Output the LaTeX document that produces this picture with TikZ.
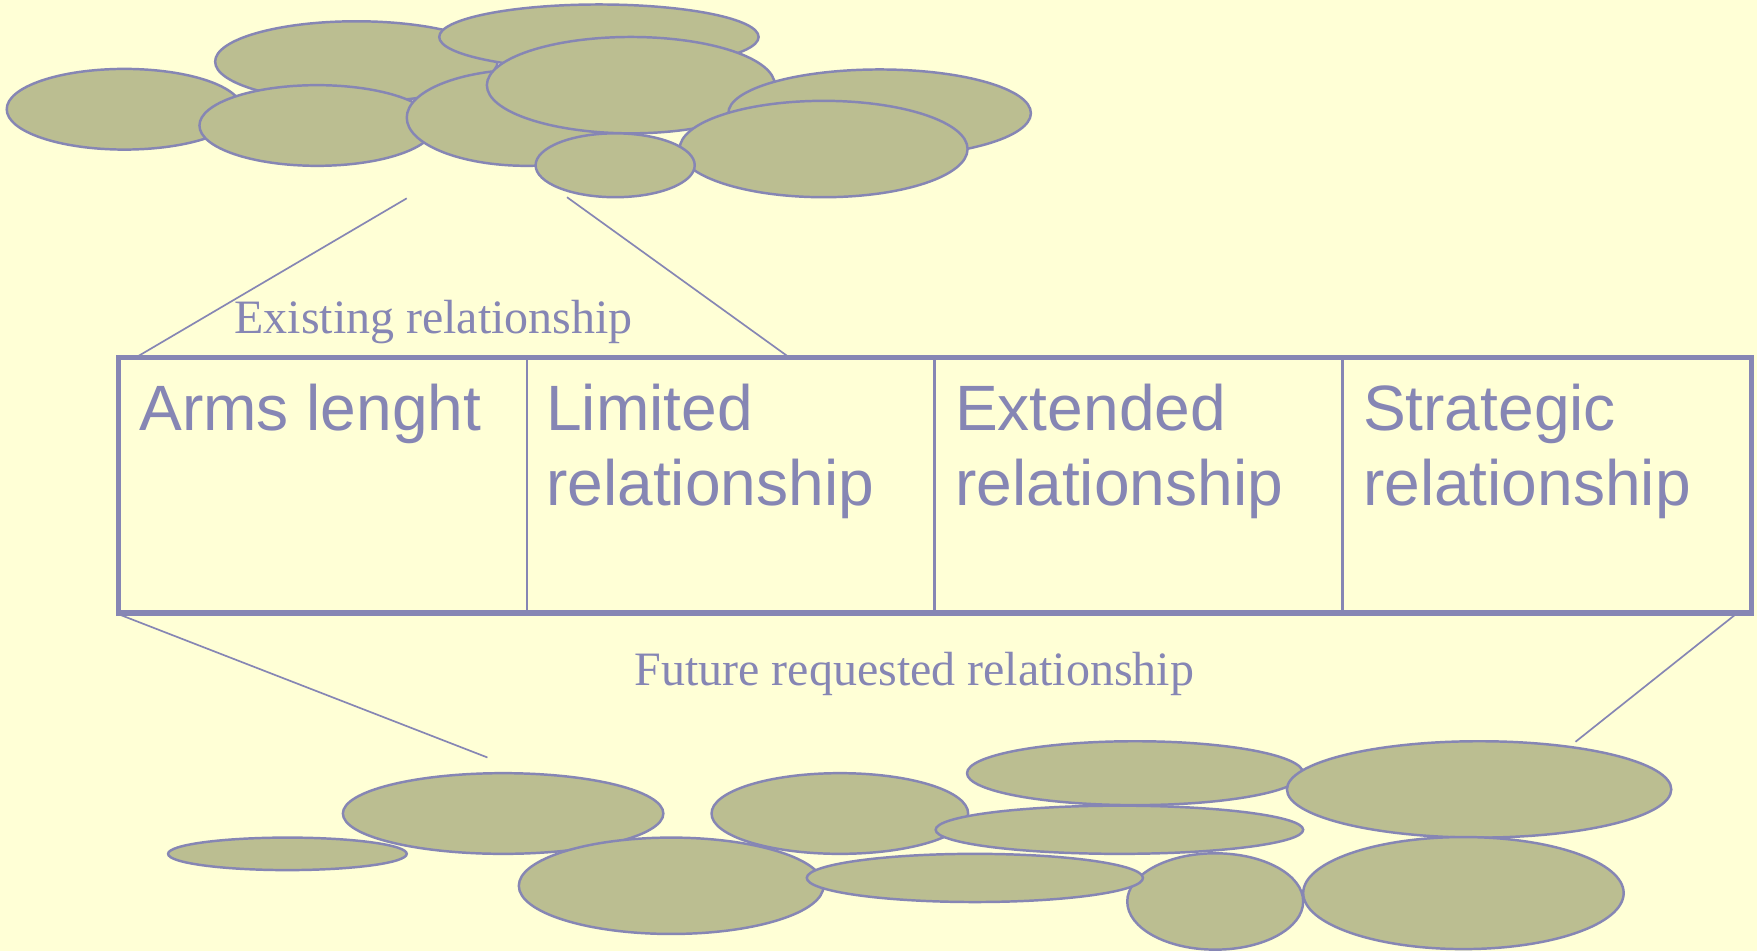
\documentclass[tikz,border=0pt]{standalone}
\usepackage{fontspec}
\setmainfont{Liberation Serif}
\newfontfamily\arialf{Liberation Sans}
\usetikzlibrary{shapes.geometric}
\definecolor{bgyellow}{RGB}{255,255,214}
\definecolor{cloudfill}{RGB}{187,190,145}
\definecolor{lav}{RGB}{134,134,180}
\begin{document}
\begin{tikzpicture}[x=0.5pt,y=-0.5pt,
  blob/.style={fill=cloudfill,draw=lav,line width=1.1pt},
  conn/.style={draw=lav,line width=0.75pt},
  celltext/.style={anchor=base west,inner sep=0pt,align=left,text=lav,
     font=\arialf\fontsize{28.6}{33.5}\selectfont},
  label/.style={anchor=base,inner sep=0pt,text=lav,font=\fontsize{21.4}{25}\selectfont}]
\fill[bgyellow] (0,0) rectangle (1568,849);
\useasboundingbox (0,0) rectangle (1568,849);
% top cloud
\path[blob] (111,97.5) ellipse [x radius=105, y radius=36];
\path[blob] (318,55) ellipse [x radius=126, y radius=36];
\path[blob] (534.5,33) ellipse [x radius=142.5, y radius=29];
\path[blob] (283,112) ellipse [x radius=105, y radius=36];
\path[blob] (470,105) ellipse [x radius=107, y radius=43];
\path[blob] (563,76) ellipse [x radius=128.5, y radius=43];
\path[blob] (785,101) ellipse [x radius=135, y radius=39];
\path[blob] (735,133) ellipse [x radius=128.5, y radius=43];
\path[blob] (549,147.5) ellipse [x radius=71, y radius=28.5];
% bottom cloud
\path[blob] (256.5,762) ellipse [x radius=106.5, y radius=14.5];
\path[blob] (449,726) ellipse [x radius=143, y radius=36];
\path[blob] (599,790.5) ellipse [x radius=136, y radius=43];
\path[blob] (749.5,726) ellipse [x radius=114.5, y radius=36];
\path[blob] (1013,690) ellipse [x radius=150, y radius=28.5];
\path[blob] (999,740.5) ellipse [x radius=164, y radius=21.5];
\path[blob] (1084.5,804.5) ellipse [x radius=78.5, y radius=43];
\path[blob] (870,783.5) ellipse [x radius=150, y radius=21.5];
\path[blob] (1320,704.5) ellipse [x radius=171.5, y radius=43];
\path[blob] (1306,797) ellipse [x radius=143, y radius=50];
% box
\coordinate (boxNW) at (106,319);
\coordinate (boxSE) at (1563,547);
\draw[lav,line width=1pt] (470,319) -- (470,547) (834,319) -- (834,547) (1198,319) -- (1198,547);
\draw[lav,line width=2.4pt,line join=miter] (boxNW) rectangle (boxSE);
\node[celltext] (t1) at (124,384) {Arms lenght};
\node[celltext] (t2) at (487,451) {Limited\\relationship};
\node[celltext] (t3) at (852,451) {Extended\\relationship};
\node[celltext] (t4) at (1216,451) {Strategic\\relationship};
% labels
\node[label] (exist) at (387,298) {Existing relationship};
\node[label] (future) at (816,612) {Future requested relationship};
% connectors
\coordinate (ctl) at (363,177);
\coordinate (ctr) at (506,176);
\coordinate (btl) at (123,318);
\coordinate (btr) at (703,318);
\coordinate (bbl) at (108,549);
\coordinate (bbr) at (1548,549);
\coordinate (cbl) at (435,676);
\coordinate (cbr) at (1406,662);
\draw[conn] (ctl) -- (btl);
\draw[conn] (ctr) -- (btr);
\draw[conn] (bbl) -- (cbl);
\draw[conn] (bbr) -- (cbr);
\end{tikzpicture}
\end{document}
